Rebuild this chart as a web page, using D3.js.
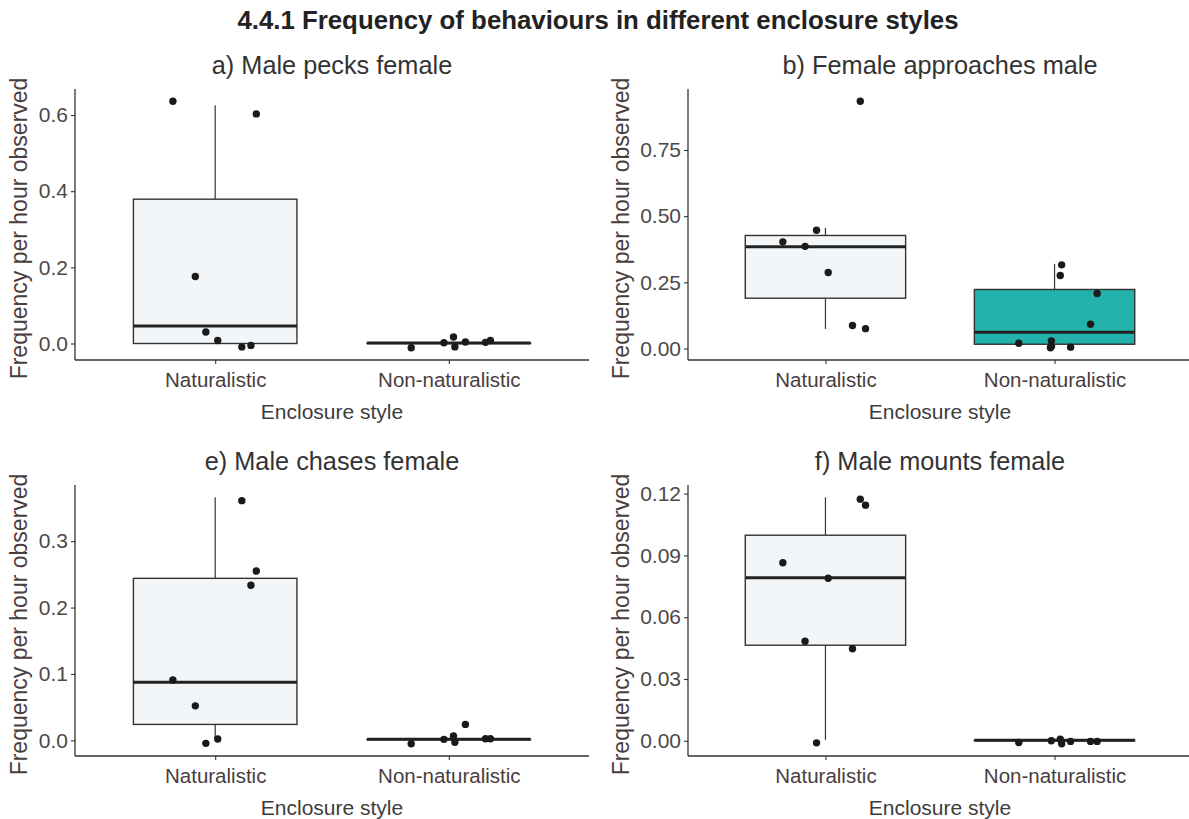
<!DOCTYPE html>
<html><head><meta charset="utf-8">
<script src="https://cdn.jsdelivr.net/npm/d3@7"></script>
<style>html,body{margin:0;padding:0;background:#fff;}</style>
</head><body>
<svg id="chart" width="1189" height="819"></svg>
<script>
// ---------- data ----------
const mainTitle = "4.4.1 Frequency of behaviours in different enclosure styles";
const categories = ["Naturalistic", "Non-naturalistic"];
const panelTitles = ["a) Male pecks female", "b) Female approaches male", "e) Male chases female", "f) Male mounts female"];
const yAxisTitle = "Frequency per hour observed";
const xAxisTitle = "Enclosure style";

const yTicksA = [0, 0.2, 0.4, 0.6];
const yTicksB = [0, 0.25, 0.5, 0.75];
const yTicksE = [0, 0.1, 0.2, 0.3];
const yTicksF = [0, 0.03, 0.06, 0.09, 0.12];

// box stats per category: [q1, median, q3, whiskerLow, whiskerHigh]
const boxA = [[0, 0.046, 0.379, 0, 0.626], [0, 0.001, 0.001, 0, 0.001]];
const boxB = [[0.190, 0.384, 0.427, 0.074, 0.456], [0.016, 0.061, 0.223, 0.003, 0.320]];
const boxE = [[0.024, 0.0875, 0.244, 0.003, 0.366], [0.001, 0.0015, 0.0015, 0.001, 0.0015]];
const boxF = [[0.0464, 0.0792, 0.0998, 0.0005, 0.1182], [0, 0.0003, 0.0003, 0, 0.0003]];

// jittered points: category index, horizontal jitter (category units), value
const ptsACat = [0,0,0,0,0,0,0, 1,1,1,1,1,1,1];
const ptsAJit = [-0.181,0.176,-0.085,-0.040,0.011,0.114,0.153, -0.161,-0.021,0.020,0.026,0.071,0.157,0.178];
const ptsAVal = [0.636,0.603,0.176,0.030,0.008,-0.009,-0.005, -0.011,0.002,0.017,-0.009,0.004,0.003,0.008];

const ptsBCat = [0,0,0,0,0,0,0, 1,1,1,1,1,1,1,1,1];
const ptsBJit = [0.152,-0.039,-0.186,-0.089,0.012,0.118,0.175, 0.031,0.025,0.186,0.157,-0.156,-0.014,-0.014,-0.018,0.070];
const ptsBVal = [0.934,0.447,0.403,0.386,0.287,0.087,0.075, 0.316,0.276,0.208,0.092,0.020,0.028,0.007,0.003,0.005];

const ptsECat = [0,0,0,0,0,0,0, 1,1,1,1,1,1,1];
const ptsEJit = [0.114,0.176,0.153,-0.181,-0.085,0.011,-0.040, -0.161,-0.021,0.020,0.026,0.071,0.157,0.178];
const ptsEVal = [0.361,0.255,0.2335,0.091,0.052,0.002,-0.0045, -0.005,0.0015,0.0065,-0.003,0.024,0.0025,0.0025];

const ptsFCat = [0,0,0,0,0,0,0, 1,1,1,1,1,1,1];
const ptsFJit = [0.152,0.175,-0.186,0.012,-0.089,0.118,-0.039, -0.156,-0.014,0.025,0.031,0.070,0.157,0.186];
const ptsFVal = [0.1173,0.1144,0.0864,0.0789,0.0483,0.0447,-0.001, -0.0008,0,0.0008,-0.0014,-0.0003,-0.0003,-0.0003];

const fillsA = ["#f3f6f9", "#f3f6f9"];
const fillsB = ["#f3f6f9", "#22b2ab"];
const fillsE = ["#f3f6f9", "#f3f6f9"];
const fillsF = ["#f3f6f9", "#f3f6f9"];

// ---------- layout ----------
const panels = [
  {title: panelTitles[0], ticks: yTicksA, fmt: ".1f", box: boxA, cat: ptsACat, jit: ptsAJit, val: ptsAVal, fills: fillsA, x0: 75,  x1: 589,  y0: 89,  y1: 360, yt: 48},
  {title: panelTitles[1], ticks: yTicksB, fmt: ".2f", box: boxB, cat: ptsBCat, jit: ptsBJit, val: ptsBVal, fills: fillsB, x0: 688, x1: 1192, y0: 89,  y1: 360, yt: 59},
  {title: panelTitles[2], ticks: yTicksE, fmt: ".1f", box: boxE, cat: ptsECat, jit: ptsEJit, val: ptsEVal, fills: fillsE, x0: 75,  x1: 589,  y0: 485, y1: 756, yt: 48},
  {title: panelTitles[3], ticks: yTicksF, fmt: ".2f", box: boxF, cat: ptsFCat, jit: ptsFJit, val: ptsFVal, fills: fillsF, x0: 688, x1: 1192, y0: 485, y1: 756, yt: 59}
];

const svg = d3.select("#chart");
const FONT = "'Liberation Sans', Arial, sans-serif";
const axisCol = "#333333";
const tickTextCol = "#4d4848";
const titleCol = "#4a3d3e";

svg.append("text")
  .attr("x", 598).attr("y", 29)
  .attr("text-anchor", "middle")
  .attr("font-family", FONT).attr("font-weight", "bold").attr("font-size", 25.8)
  .attr("fill", "#222").text(mainTitle);

const defs = svg.append("defs");

panels.forEach((p, pi) => {
  const g = svg.append("g");
  const x = d3.scaleLinear().domain([-0.6, 1.6]).range([p.x0, p.x1]);
  const allVals = p.val.concat(p.box.flat());
  const mn = d3.min(allVals), mx = d3.max(allVals);
  const pad = (mx - mn) * 0.05;
  const y = d3.scaleLinear().domain([mn - pad, mx + pad]).range([p.y1, p.y0]);
  const bw = 0.7;

  // panel title
  g.append("text")
    .attr("x", (p.x0 + p.x1) / 2).attr("y", p.y0 - 15)
    .attr("text-anchor", "middle")
    .attr("font-family", FONT).attr("font-size", 25.3).attr("fill", "#333")
    .text(p.title);

  // boxes
  p.box.forEach((b, ci) => {
    const [q1, med, q3, lo, hi] = b;
    const cx = x(ci);
    g.append("line").attr("x1", cx).attr("x2", cx).attr("y1", y(q3)).attr("y2", y(hi))
      .attr("stroke", axisCol).attr("stroke-width", 1.2);
    g.append("line").attr("x1", cx).attr("x2", cx).attr("y1", y(q1)).attr("y2", y(lo))
      .attr("stroke", axisCol).attr("stroke-width", 1.2);
    g.append("rect")
      .attr("x", x(ci - bw / 2)).attr("width", x(ci + bw / 2) - x(ci - bw / 2))
      .attr("y", y(q3)).attr("height", Math.max(0, y(q1) - y(q3)))
      .attr("fill", p.fills[ci]).attr("stroke", axisCol).attr("stroke-width", 1.4);
    g.append("line")
      .attr("x1", x(ci - bw / 2)).attr("x2", x(ci + bw / 2))
      .attr("y1", y(med)).attr("y2", y(med))
      .attr("stroke", "#222").attr("stroke-width", 3);
  });

  // points
  g.selectAll("circle.pt").data(p.val).enter().append("circle")
    .attr("class", "pt")
    .attr("cx", (d, i) => x(p.cat[i] + p.jit[i]))
    .attr("cy", d => y(d))
    .attr("r", 3.7)
    .attr("fill", "#1a1a1a");

  // y axis
  const ya = g.append("g").attr("transform", `translate(${p.x0},0)`)
    .call(d3.axisLeft(y).tickValues(p.ticks).tickFormat(d3.format(p.fmt)).tickSize(4).tickPadding(3));
  ya.select(".domain").attr("stroke", axisCol).attr("stroke-width", 1.3)
    .attr("d", `M0,${p.y0}V${p.y1}`);
  ya.selectAll(".tick line").attr("stroke", axisCol).attr("stroke-width", 1.1);
  ya.selectAll(".tick text").attr("font-family", FONT).attr("font-size", 21).attr("fill", tickTextCol);

  // x axis
  const xa = g.append("g").attr("transform", `translate(0,${p.y1})`)
    .call(d3.axisBottom(x).tickValues([0, 1]).tickFormat(i => categories[i]).tickSize(4).tickPadding(8));
  xa.select(".domain").attr("stroke", axisCol).attr("stroke-width", 1.3)
    .attr("d", `M${p.x0},0H${p.x1}`);
  xa.selectAll(".tick line").attr("stroke", axisCol).attr("stroke-width", 1.1);
  xa.selectAll(".tick text").attr("font-family", FONT).attr("font-size", 20.5).attr("fill", titleCol);

  // axis titles
  g.append("text")
    .attr("x", (p.x0 + p.x1) / 2).attr("y", p.y1 + 59)
    .attr("text-anchor", "middle")
    .attr("font-family", FONT).attr("font-size", 21).attr("fill", "#3d3d3d")
    .text(xAxisTitle);

  const clipId = "clipY" + pi;
  defs.append("clipPath").attr("id", clipId).append("rect")
    .attr("x", p.x0 - 90).attr("y", p.y0 - 11).attr("width", 60).attr("height", 400);
  g.append("g").attr("clip-path", `url(#${clipId})`)
    .append("text")
    .attr("transform", `translate(${p.x0 - p.yt},${(p.y0 + p.y1) / 2 + 4}) rotate(-90)`)
    .attr("text-anchor", "middle")
    .attr("font-family", FONT).attr("font-size", 23).attr("fill", titleCol)
    .text(yAxisTitle);
});
</script>
</body></html>
